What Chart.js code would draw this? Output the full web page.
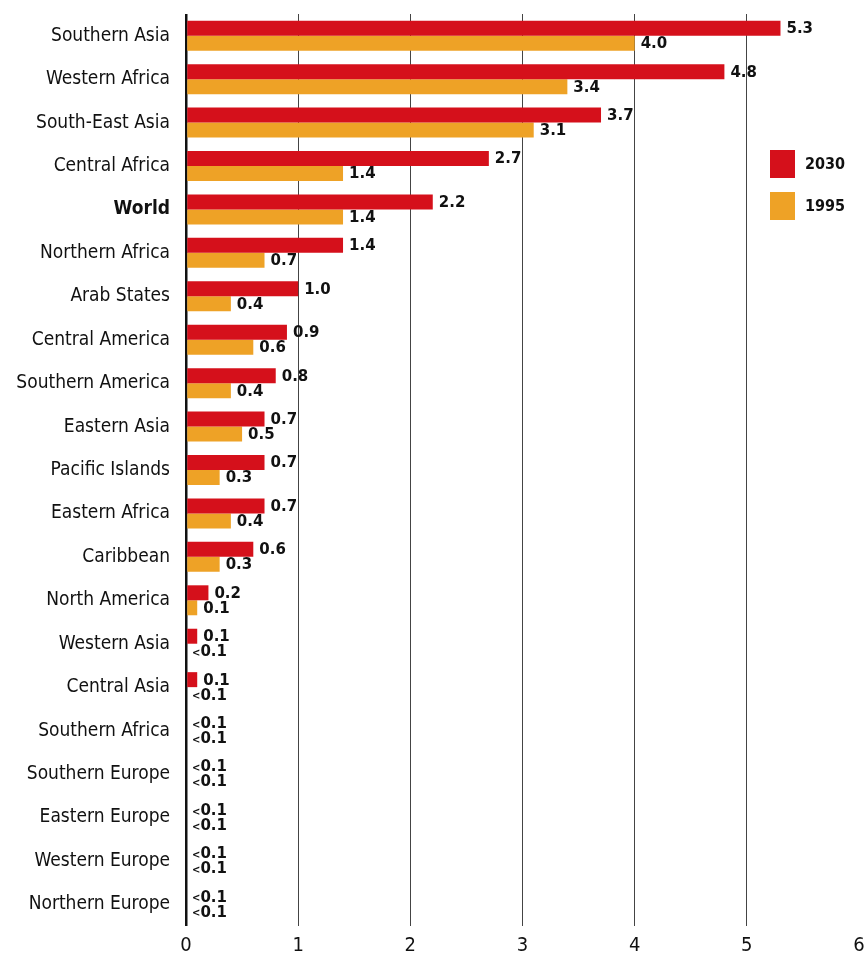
<!DOCTYPE html>
<html>
<head>
<meta charset="utf-8">
<script src="https://cdn.jsdelivr.net/npm/chart.js@4.4.0/dist/chart.umd.min.js"></script>
<style>
  html, body { margin: 0; padding: 0; background: #fff; }
  #wrap { width: 868px; height: 966px; }
</style>
</head>
<body>
<div id="wrap"><canvas id="myChart"></canvas></div>
<script>
const regiones = ['Southern Asia','Western Africa','South-East Asia','Central Africa','World','Northern Africa','Arab States','Central America','Southern America','Eastern Asia','Pacific Islands','Eastern Africa','Caribbean','North America','Western Asia','Central Asia','Southern Africa','Southern Europe','Eastern Europe','Western Europe','Northern Europe'];
const valores2030 = [5.3,4.8,3.7,2.7,2.2,1.4,1.0,0.9,0.8,0.7,0.7,0.7,0.6,0.2,0.1,0.1,0,0,0,0,0];
const valores1995 = [4.0,3.4,3.1,1.4,1.4,0.7,0.4,0.6,0.4,0.5,0.3,0.4,0.3,0.1,0,0,0,0,0,0,0];
const etiquetas2030 = ['5.3','4.8','3.7','2.7','2.2','1.4','1.0','0.9','0.8','0.7','0.7','0.7','0.6','0.2','0.1','0.1','<0.1','<0.1','<0.1','<0.1','<0.1'];
const etiquetas1995 = ['4.0','3.4','3.1','1.4','1.4','0.7','0.4','0.6','0.4','0.5','0.3','0.4','0.3','0.1','<0.1','<0.1','<0.1','<0.1','<0.1','<0.1','<0.1'];
const series = ['2030','1995'];
const colores = ['#d5101b','#eea226'];

const etiquetasPlugin = {
  id: 'etiquetas',
  afterDatasetsDraw(chart) {
    const ctx = chart.ctx;
    const textos = [etiquetas2030, etiquetas1995];
    ctx.save();
    ctx.fillStyle = '#111';
    ctx.textBaseline = 'middle';
    ctx.textAlign = 'left';
    chart.data.datasets.forEach((ds, i) => {
      chart.getDatasetMeta(i).data.forEach((bar, j) => {
        let x = bar.x + 6;
        const y = bar.y + 1;
        let t = textos[i][j];
        if (t.startsWith('<')) {
          ctx.font = 'bold 10px "DejaVu Sans"';
          ctx.fillText('<', x, y + 1);
          x += ctx.measureText('<').width;
          t = t.slice(1);
        }
        ctx.font = 'bold 15px "DejaVu Sans"';
        ctx.fillText(t, x, y);
      });
    });
    // leyenda
    const lx = 770;
    series.forEach((s, i) => {
      const ly = 150 + i * 42;
      ctx.fillStyle = colores[i];
      ctx.fillRect(lx, ly, 25, 28);
      ctx.fillStyle = '#111';
      ctx.font = 'bold 16px "DejaVu Sans Condensed"';
      ctx.fillText(s, lx + 35, ly + 15);
    });
    ctx.restore();
  }
};

new Chart(document.querySelector('#myChart'), {
  type: 'bar',
  data: {
    labels: regiones,
    datasets: [
      { label: series[0], data: valores2030, backgroundColor: colores[0], categoryPercentage: 0.69, barPercentage: 1.0 },
      { label: series[1], data: valores1995, backgroundColor: colores[1], categoryPercentage: 0.69, barPercentage: 1.0 }
    ]
  },
  options: {
    indexAxis: 'y',
    responsive: true,
    maintainAspectRatio: false,
    animation: false,
    layout: { padding: { top: 14, right: 9, left: 0, bottom: 0 } },
    plugins: {
      legend: { display: false },
      tooltip: { enabled: false }
    },
    scales: {
      x: {
        min: 0, max: 6,
        z: 1,
        ticks: { stepSize: 1, color: '#111', padding: 8, font: { family: '"DejaVu Sans Condensed"', size: 20 } },
        grid: {
          drawTicks: false,
          color: c => c.tick.value === 0 ? '#111' : (c.tick.value === 6 ? 'rgba(0,0,0,0)' : '#444'),
          lineWidth: c => c.tick.value === 0 ? 2.5 : 1
        },
        border: { display: false },
        afterFit: s => { s.height = 40; s.paddingLeft = 0; s.paddingRight = 0; }
      },
      y: {
        ticks: {
          color: '#111', padding: 16,
          font: c => ({ family: '"DejaVu Sans Condensed"', size: 19, weight: regiones[c.index] === 'World' ? 'bold' : 'normal' })
        },
        grid: { display: false, drawTicks: false },
        border: { display: false },
        afterFit: s => { s.width = 186; s.paddingTop = 0; s.paddingBottom = 0; }
      }
    }
  },
  plugins: [etiquetasPlugin]
});
</script>
</body>
</html>
